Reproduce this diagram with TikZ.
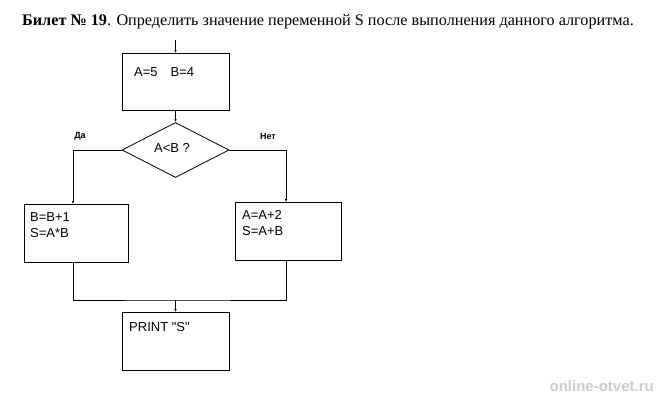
\documentclass[tikz,border=0pt]{standalone}
\usepackage{fontspec}
\setmainfont{Liberation Serif}
\newfontfamily\arialf{Liberation Sans}
\usetikzlibrary{shapes.geometric,arrows.meta}
\begin{document}
\begin{tikzpicture}[x=1pt,y=-1pt,
  txt/.style={font=\arialf\fontsize{13}{16}\selectfont,anchor=north west,align=left,inner sep=0},
  ln/.style={line width=0.8pt},
  ar/.style={line width=0.8pt,-{Latex[length=3pt,width=2.5pt]}}]
\useasboundingbox (0,0) rectangle (659,400);
\node[anchor=west,inner sep=0,font=\fontsize{16.2}{18}\selectfont] (title) at (22,22) {\textbf{Билет № 19}. Определить значение переменной S после выполнения данного алгоритма.};
\draw[line width=0.8pt] (122,53) rectangle (229,110);
\node[txt] (t1) at (134,67) {A=5\quad B=4};
\coordinate (s) at (175.5,40);
\coordinate (b1t) at (175.5,53);
\coordinate (b1b) at (175.5,110);
\node[draw,line width=0.8pt,diamond,minimum width=107pt,minimum height=55pt,inner sep=0,aspect=2] (d) at (175.5,150) {};
\node[font=\arialf\fontsize{13}{15}\selectfont] (q) at (172,148) {A<B ?};
\node[font=\arialf\bfseries\fontsize{9}{11}\selectfont] (yes) at (80,136) {Да};
\node[font=\arialf\bfseries\fontsize{9}{11}\selectfont] (no) at (268,136) {Нет};
\draw[line width=0.8pt] (24,204) rectangle (128,262);
\node[txt] (t2) at (30,212) {B=B+1\\S=A*B};
\draw[line width=0.8pt] (235,202) rectangle (341,260);
\node[txt] (t3) at (242,210) {A=A+2\\S=A+B};
\draw[line width=0.8pt] (122,312) rectangle (229,370);
\node[txt] (t4) at (129,322) {PRINT "S"};
\coordinate (lb) at (73,204); \coordinate (rb) at (286,202);
\coordinate (lbb) at (73,262); \coordinate (rbb) at (286,260);
\coordinate (m) at (175.5,300); \coordinate (pt) at (175.5,312);
\draw[line width=0.5pt,-{Latex[length=3pt,width=2.5pt]}] (s) -- (b1t);
\draw[ar] (b1b) -- (d.north);
\draw[ar] (d.west) -| (lb);
\draw[ar] (d.east) -| (rb);
\draw[ln] (lbb) |- (m) -| (rbb);
\draw[ar] (m) -- (pt);
\node[anchor=east,inner sep=0,text=black!20,font=\arialf\bfseries\fontsize{15}{17}\selectfont] (wm) at (654,386) {online-otvet.ru};
\end{tikzpicture}
\end{document}
